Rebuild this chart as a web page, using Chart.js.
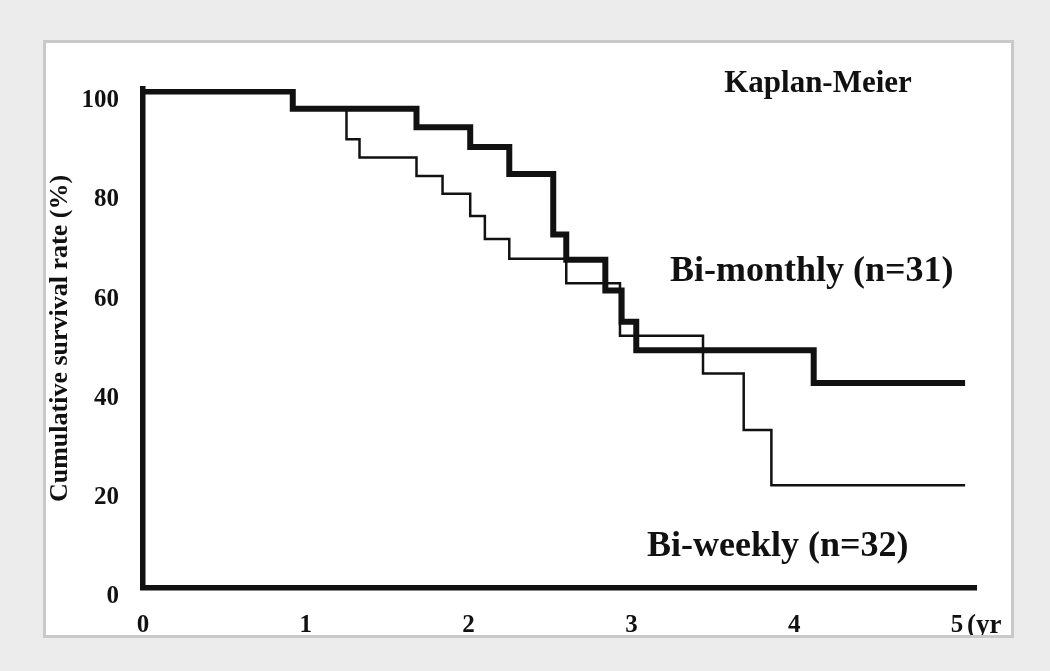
<!DOCTYPE html>
<html>
<head>
<meta charset="utf-8">
<script src="https://cdn.jsdelivr.net/npm/chart.js@4"></script>
<style>
  html, body { margin: 0; padding: 0; background: #ececec; }
  body { width: 1050px; height: 671px; position: relative; overflow: hidden; }
  #panel {
    position: absolute; left: 43px; top: 40px; width: 971px; height: 598px;
    box-sizing: border-box; border: 3px solid #c9c9c9; background: #fff; overflow: hidden;
  }
  #chart { position: absolute; left: -46px; top: -43px; }
</style>
</head>
<body>
<div id="panel"><canvas id="chart" width="1050" height="671"></canvas></div>
<script>
// Kaplan-Meier steps (years, survival %)
const monthlyTimes = [0, 0.92, 1.68, 2.01, 2.25, 2.52, 2.60, 2.84, 2.94, 3.03, 4.12, 5.05];
const monthlyValues = [100, 96.5, 92.8, 88.8, 83.4, 71.2, 66.1, 59.9, 53.6, 47.9, 41.3, 41.3];

const weeklyTimes = [0, 0.92, 1.25, 1.33, 1.68, 1.84, 2.01, 2.10, 2.25, 2.60, 2.93, 3.44, 3.69, 3.86, 5.05];
const weeklyValues = [100, 96.5, 90.4, 86.7, 83.0, 79.4, 74.9, 70.3, 66.3, 61.4, 50.8, 43.2, 31.8, 20.7, 20.7];

const xTicks = [0, 1, 2, 3, 4, 5];
const yTicks = [0, 20, 40, 60, 80, 100];

const serif = '"Liberation Serif", "Times New Roman", serif';

function toPoints(times, values) {
    return times.map((t, i) => ({ x: t, y: values[i] }));
}

// Free text labels drawn on top of the plot
const annotations = {
    id: "annotations",
    afterDatasetsDraw(chart) {
        const ctx = chart.ctx;
        ctx.save();
        ctx.fillStyle = "#111";
        ctx.textBaseline = "middle";
        ctx.textAlign = "center";
        ctx.font = "bold 31px " + serif;
        ctx.fillText("Kaplan-Meier", 818, 84);
        ctx.textAlign = "left";
        ctx.font = "bold 36px " + serif;
        ctx.fillText("Bi-monthly (n=31)", 670, 272);
        ctx.fillText("Bi-weekly (n=32)", 647, 547);
        ctx.font = "bold 27px " + serif;
        ctx.fillText("(yr", 967, 626);
        ctx.restore();
    }
};

new Chart(document.getElementById("chart"), {
    type: "line",
    data: {
        datasets: [
            {
                label: "Bi-monthly (n=31)",
                data: toPoints(monthlyTimes, monthlyValues),
                borderColor: "#111",
                borderWidth: 6,
                stepped: true,
                pointRadius: 0,
                borderCapStyle: "butt",
                borderJoinStyle: "miter"
            },
            {
                label: "Bi-weekly (n=32)",
                data: toPoints(weeklyTimes, weeklyValues),
                borderColor: "#111",
                borderWidth: 2.5,
                stepped: true,
                pointRadius: 0,
                borderCapStyle: "butt",
                borderJoinStyle: "miter"
            }
        ]
    },
    options: {
        responsive: false,
        animation: false,
        layout: { padding: { left: 0, top: 89, right: 73.5, bottom: 0 } },
        plugins: {
            legend: { display: false },
            tooltip: { enabled: false }
        },
        scales: {
            x: {
                type: "linear",
                min: 0,
                max: 5.12,
                grid: { display: false, drawTicks: false },
                border: { display: true, color: "#111", width: 5.5 },
                afterBuildTicks: (scale) => { scale.ticks = xTicks.map(v => ({ value: v })); },
                afterFit: (scale) => { scale.height = 83; },
                ticks: {
                    color: "#111",
                    padding: 23,
                    maxRotation: 0,
                    font: { family: serif, size: 25, weight: "bold" }
                }
            },
            y: {
                min: 0,
                max: 100.5,
                grid: { display: false, drawTicks: false },
                border: { display: true, color: "#111", width: 5.5 },
                afterBuildTicks: (scale) => { scale.ticks = yTicks.map(v => ({ value: v })); },
                afterFit: (scale) => { scale.width = 143; },
                title: {
                    display: true,
                    text: "Cumulative survival rate (%)",
                    color: "#111",
                    padding: { top: 45, bottom: 0 },
                    font: { family: serif, size: 26, weight: "bold" }
                },
                ticks: {
                    color: "#111",
                    padding: 24,
                    labelOffset: 9,
                    font: { family: serif, size: 25, weight: "bold" }
                }
            }
        }
    },
    plugins: [annotations]
});
</script>
</body>
</html>
